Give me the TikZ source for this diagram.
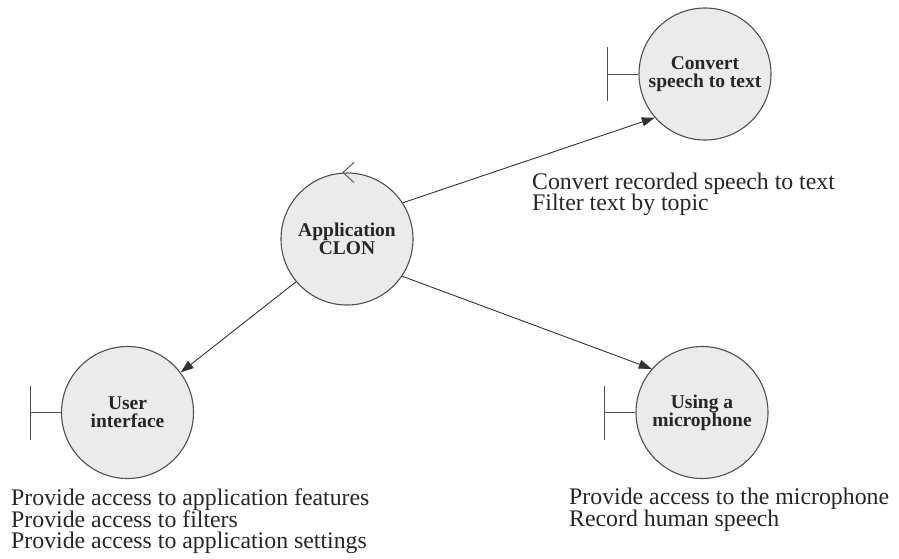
\documentclass[tikz,border=0pt]{standalone}
\usepackage{fontspec}
\setmainfont{Liberation Serif}
\usetikzlibrary{arrows.meta}
\definecolor{cfill}{HTML}{EBEBEB}
\definecolor{cline}{HTML}{505050}
\definecolor{carrow}{HTML}{333333}
\definecolor{ctext}{HTML}{262626}
\newcommand\mydescfont{\fontsize{23.8}{21.5}\selectfont\lineskiplimit=-30pt\relax\lineskip=0pt\relax}
\begin{document}
\begin{tikzpicture}[x=1pt,y=-1pt,
  obj/.style={circle, draw=cline, fill=cfill, line width=1.1pt, minimum size=132pt,
    inner sep=0pt, align=center, text=ctext, font=\bfseries\fontsize{19.5}{18}\selectfont},
  conn/.style={draw=carrow, line width=0.9pt, -{Triangle[length=13pt,width=9pt]}},
  desc/.style={anchor=north west, inner sep=0pt, align=left, text=ctext,
    font=\mydescfont},
  bnd/.style={draw=cline, line width=0.9pt}]
\useasboundingbox (0,0) rectangle (899,558);
\node[obj] (app) at (347,239) {Application\\CLON};
\node[obj] (conv) at (705,74) {Convert\\speech to text};
\node[obj] (ui) at (127.5,412.5) {User\\interface};
\node[obj] (mic) at (702,412.5) {Using a\\microphone};
% boundary symbols
\draw[bnd] (conv.west) -- ++(-31,0) ++(0,-27) -- ++(0,54);
\draw[bnd] (ui.west) -- ++(-31,0) ++(0,-27) -- ++(0,54);
\draw[bnd] (mic.west) -- ++(-31,0) ++(0,-27) -- ++(0,54);
% control symbol
\draw[bnd] (app.north) ++(7,-10) -- ++(-11,10) -- ++(11,10);
% connectors
\draw[conn] (app.33.5) -- (conv.221.9);
\draw[conn] (app.220.2) -- (ui.37.6);
\draw[conn] (app.-34) -- (mic.139.5);
% descriptions
\node[desc] (convd) at (532,172.6) {Convert recorded speech to text\\Filter text by topic};
\node[desc] (uid) at (11,488.8) {Provide access to application features\\Provide access to filters\\Provide access to application settings};
\node[desc] (micd) at (569,487.8) {Provide access to the microphone\\Record human speech};
\end{tikzpicture}
\end{document}
